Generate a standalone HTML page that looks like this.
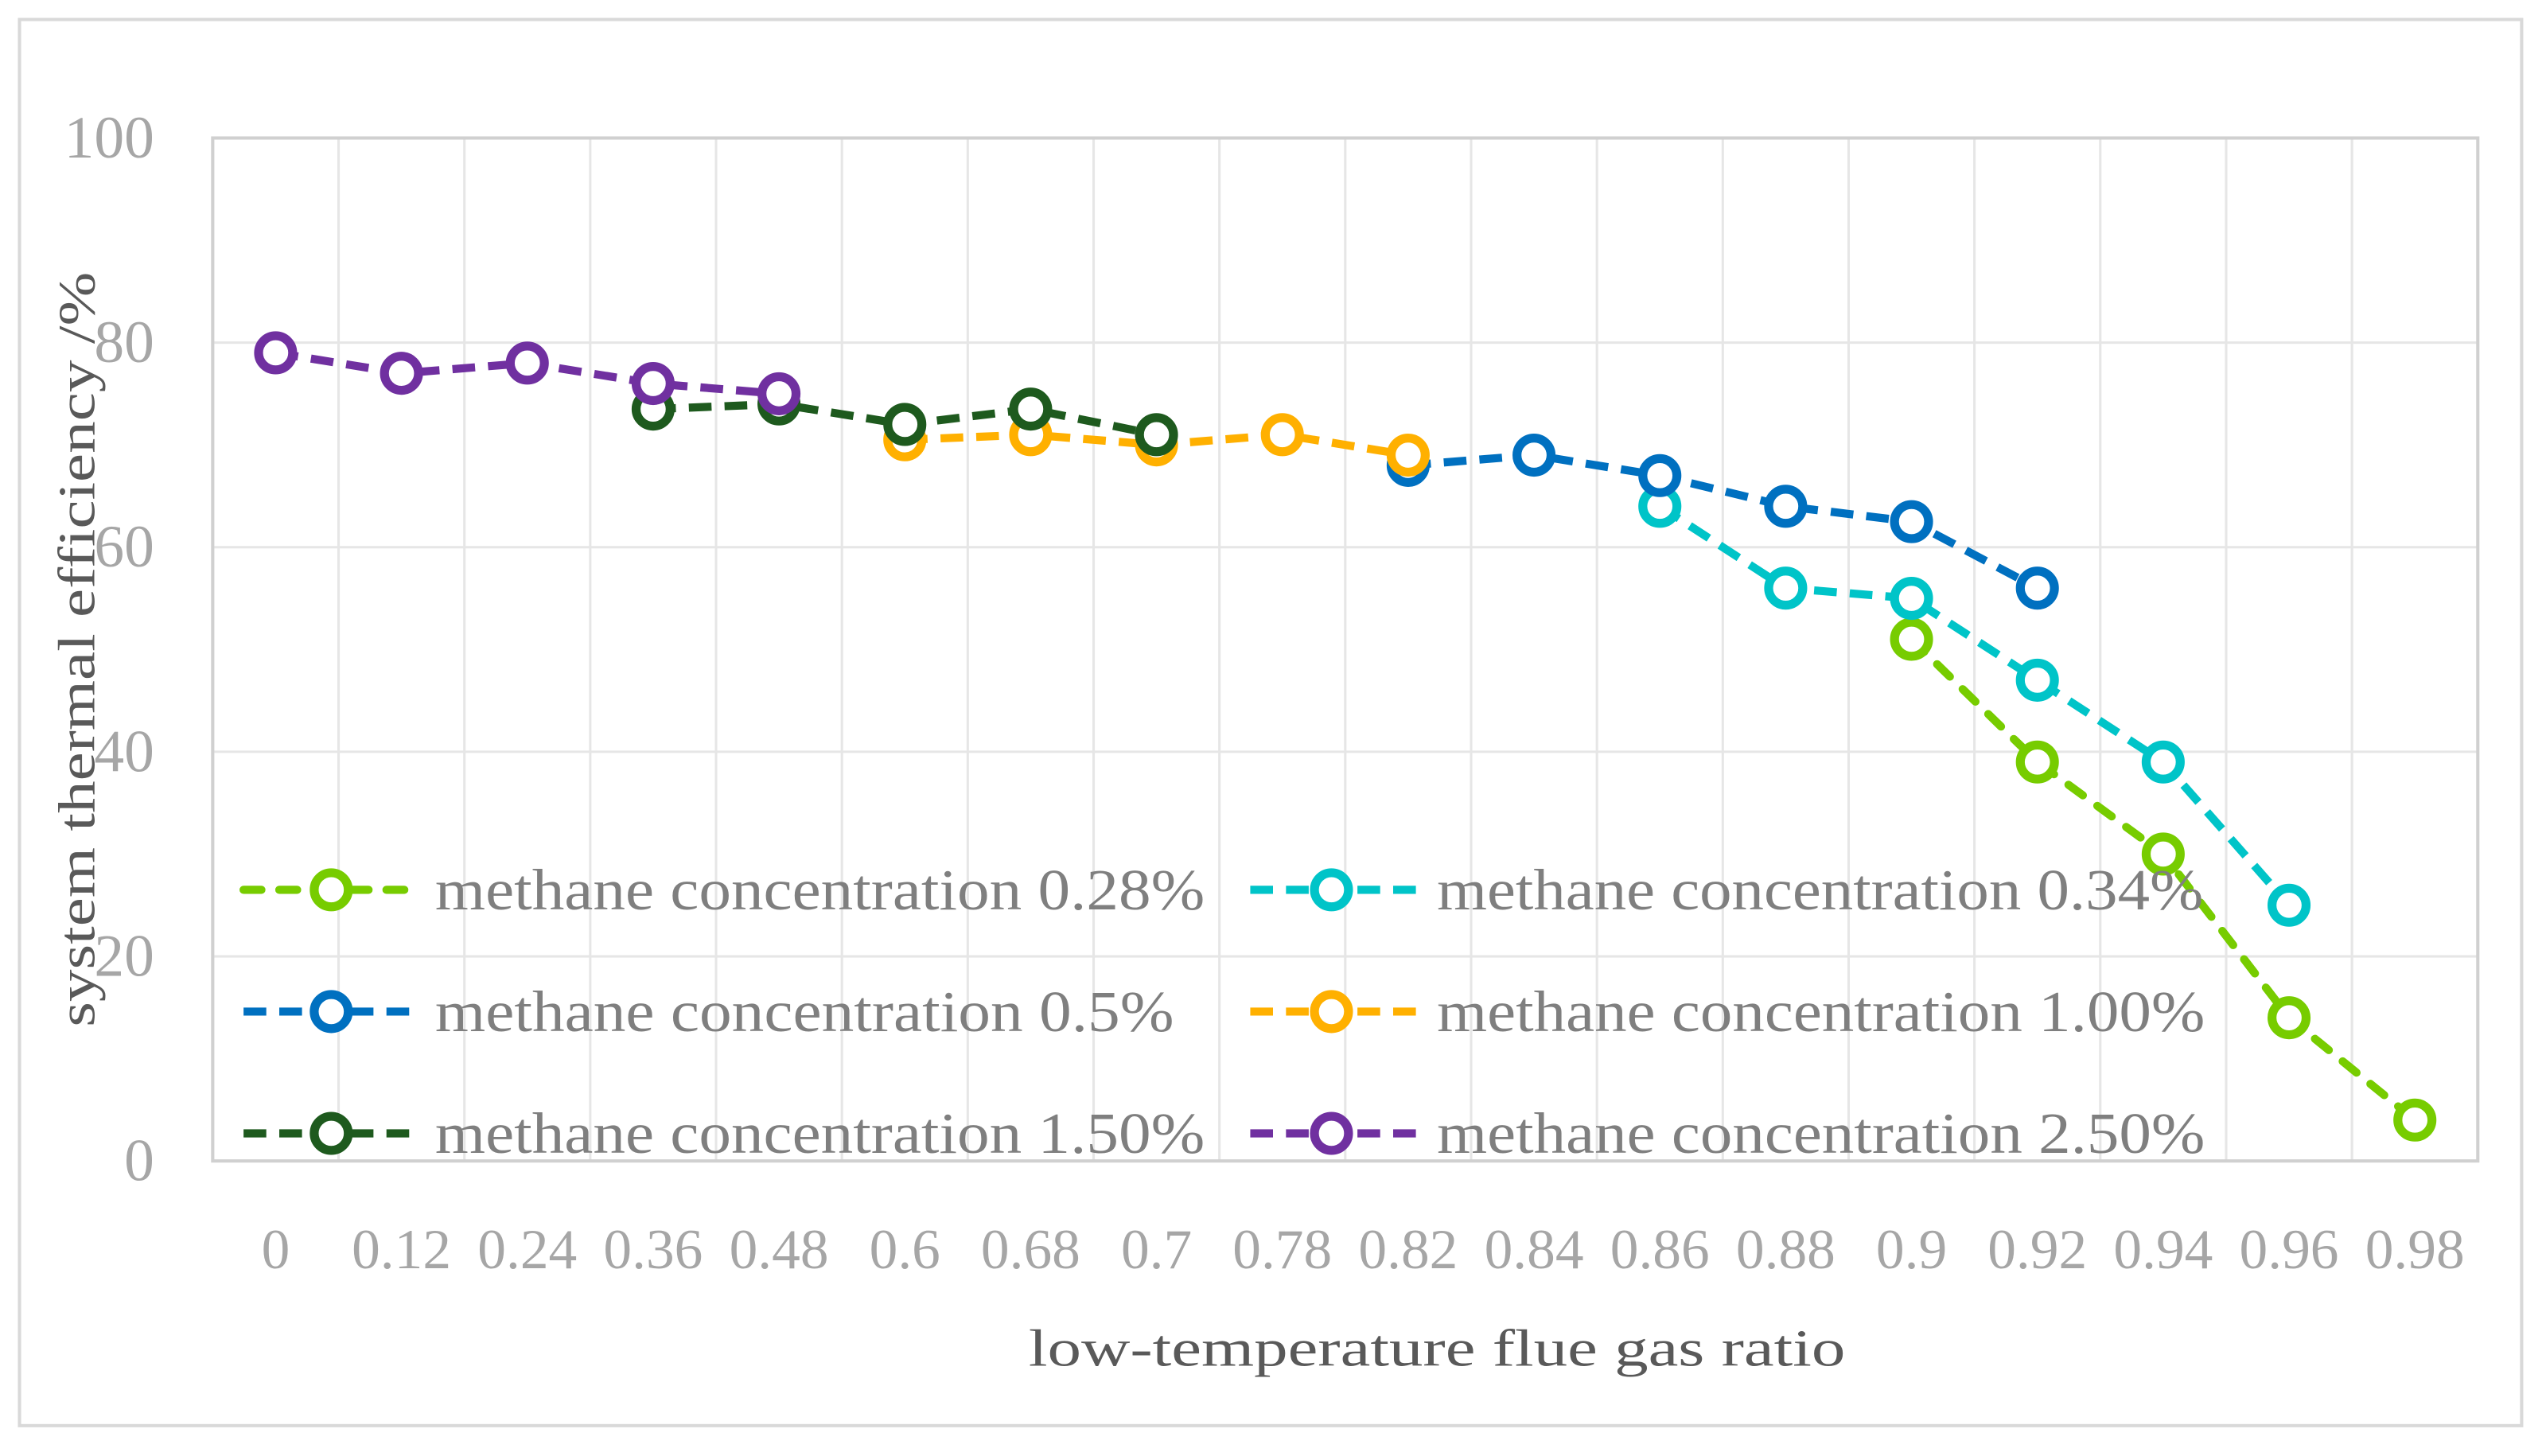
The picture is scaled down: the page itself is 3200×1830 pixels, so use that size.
<!DOCTYPE html>
<html><head><meta charset="utf-8"><style>
html,body{margin:0;padding:0;background:#fff;}
svg{display:block;font-family:"Liberation Serif",serif;}
</style></head><body>
<svg id="chart" width="3200" height="1830" viewBox="0 0 1568 896.7" xmlns="http://www.w3.org/2000/svg">
<rect x="12" y="12" width="1541" height="866" fill="#fff" stroke="#d9d9d9" stroke-width="2"/>
<g id="grid"></g>
<rect x="131" y="85" width="1395" height="630" fill="none" stroke="#d0d0d0" stroke-width="2"/>
<g id="ticks"></g>
<text transform="translate(58,400) rotate(-90)" text-anchor="middle" font-size="32" fill="#595959" textLength="465" lengthAdjust="spacingAndGlyphs">system thermal efficiency /%</text>
<text x="885" y="841" text-anchor="middle" font-size="32" fill="#595959" textLength="503" lengthAdjust="spacingAndGlyphs">low-temperature flue gas  ratio</text>
<g id="series"></g>
<g id="legend"></g>
</svg>
<script>
const categories=["0","0.12","0.24","0.36","0.48","0.6","0.68","0.7","0.78","0.82","0.84","0.86","0.88","0.9","0.92","0.94","0.96","0.98"];
const yTicks=[0,20,40,60,80,100];
const seriesNames=["methane concentration 0.28%","methane concentration 0.34%","methane concentration 0.5%","methane concentration 1.00%","methane concentration 1.50%","methane concentration 2.50%"];
const seriesColors=["#77cc00","#00c4c8","#0070c0","#ffb000","#1e5a1e","#7030a0"];
const s028Idx=[13,14,15,16,17];
const s028Val=[51,39,30,14,4];
const s034Idx=[11,12,13,14,15,16];
const s034Val=[64,56,55,47,39,25];
const s05Idx=[9,10,11,12,13,14];
const s05Val=[68,69,67,64,62.5,56];
const s100Idx=[5,6,7,8,9];
const s100Val=[70.5,71,70,71,69];
const s150Idx=[3,4,5,6,7];
const s150Val=[73.5,74,72,73.5,71];
const s250Idx=[0,1,2,3,4];
const s250Val=[79,77,78,76,75];

const NS="http://www.w3.org/2000/svg";
const L=131,R=1526,T=85,B=715;
const bw=(R-L)/categories.length;
function xPos(i){return L+bw*(i+0.5);}
function yPos(v){return B-(v/100)*(B-T);}
function mk(tag,attrs,parent){const e=document.createElementNS(NS,tag);for(const k in attrs)e.setAttribute(k,attrs[k]);parent.appendChild(e);return e;}

const grid=document.getElementById('grid');
const ticks=document.getElementById('ticks');
for(let i=1;i<categories.length;i++){
  const g=mk('line',{x1:L+bw*i,x2:L+bw*i,y1:T,y2:B,stroke:'#e6e6e6','stroke-width':1.5},grid);
  
  
}
yTicks.forEach(v=>{
  if(v>0&&v<100){const g=mk('line',{x1:L,x2:R,y1:yPos(v),y2:yPos(v),stroke:'#e6e6e6','stroke-width':1.5},grid);
  
  }
  const t=mk('text',{x:95,y:yPos(v)+12,'text-anchor':'end','font-size':37,fill:'#a6a6a6'},ticks);
  t.textContent=v;
  
  
});
categories.forEach((c,i)=>{
  const t=mk('text',{x:xPos(i),y:781,'text-anchor':'middle','font-size':35,fill:'#a6a6a6'},ticks);
  t.textContent=c;
  
  
});

const seriesIdx=[s028Idx,s034Idx,s05Idx,s100Idx,s150Idx,s250Idx];
const seriesVal=[s028Val,s034Val,s05Val,s100Val,s150Val,s250Val];
const sg=document.getElementById('series');
seriesIdx.forEach((idx,s)=>{
  const g=mk('g',{},sg);
  
  
  const pts=idx.map((ci,k)=>xPos(ci)+','+yPos(seriesVal[s][k])).join(' ');
  const pl=mk('polyline',{points:pts,fill:'none',stroke:seriesColors[s],'stroke-width':5,'stroke-dasharray':s===0?'11 11':'14 8','stroke-linecap':s===0?'round':'butt'},g);
  
  
  idx.forEach((ci,k)=>{
    const c=mk('circle',{cx:xPos(ci),cy:yPos(seriesVal[s][k]),r:10.5,fill:'#fff',stroke:seriesColors[s],'stroke-width':5.5},g);
    
    
  });
});

const lg=document.getElementById('legend');
const rowsY=[548,623,698];
const colX=[[150,260,204,268],[770,872,820,885]];
const textLens=[474,472,455,473,474,473];
seriesNames.forEach((n,s)=>{
  const r=Math.floor(s/2),c=s%2;const y=rowsY[r];const cx=colX[c];
  const g=mk('g',{},lg);
  
  
  mk('line',{x1:cx[0],x2:cx[1],y1:y,y2:y,stroke:seriesColors[s],'stroke-width':5,'stroke-dasharray':s===0?'11 11':'14 8','stroke-linecap':s===0?'round':'butt'},g);
  mk('circle',{cx:cx[2],cy:y,r:10.5,fill:'#fff',stroke:seriesColors[s],'stroke-width':5.5},g);
  const t=mk('text',{x:cx[3],y:y+12,'font-size':36,fill:'#7f7f7f',textLength:textLens[s],lengthAdjust:'spacingAndGlyphs'},g);
  t.textContent=n;
});
</script>
</body></html>
